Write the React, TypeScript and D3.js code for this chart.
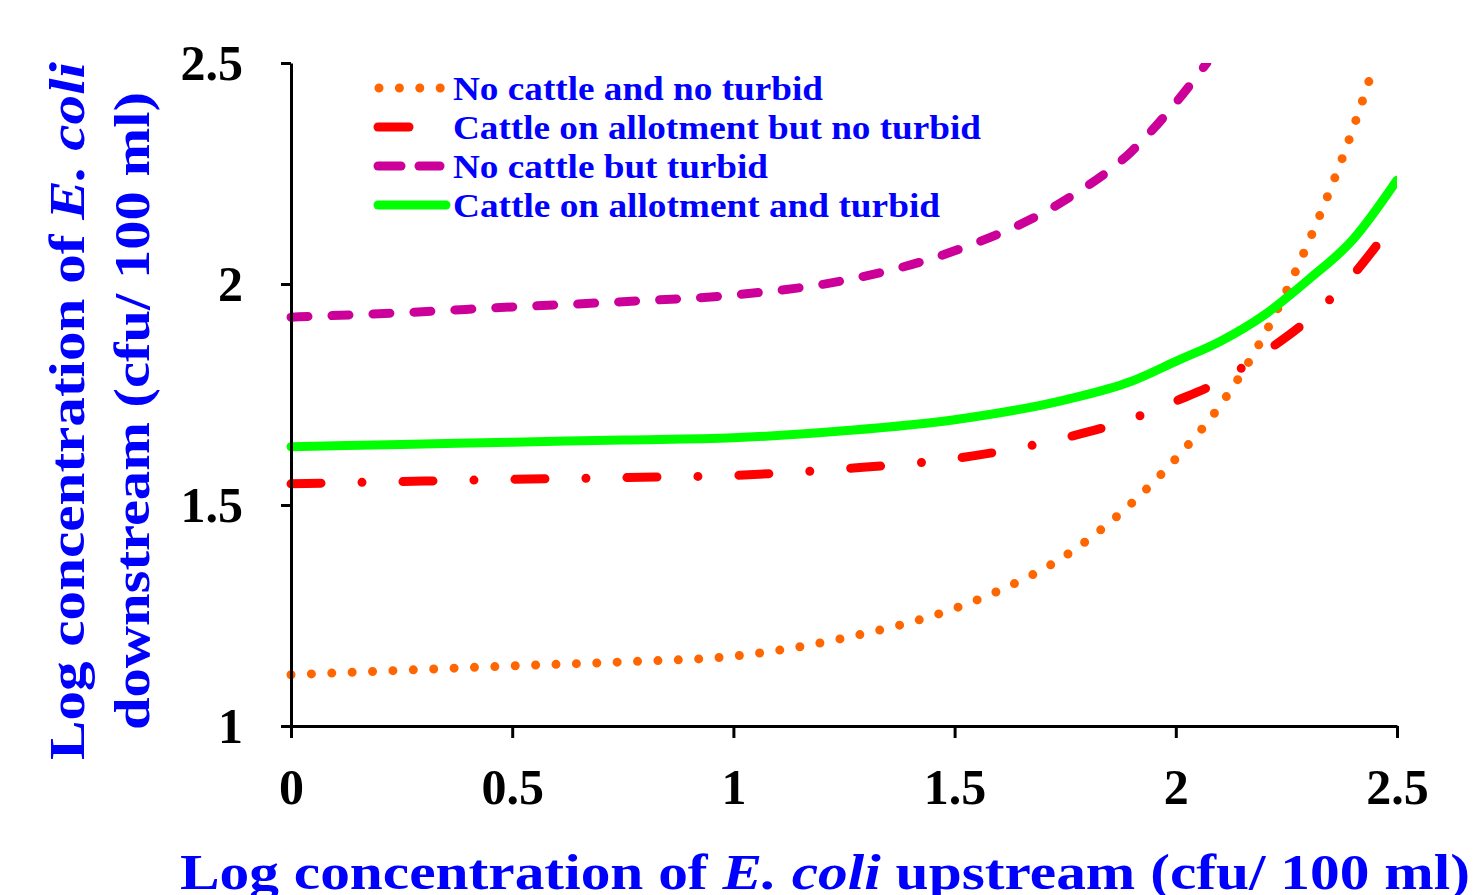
import React, { useRef, useEffect } from "react";
import { select, scaleLinear, line, curveMonotoneX, axisBottom, axisLeft } from "d3";

// values (x = log upstream, y = log downstream)
const noCattleNoTurbidX = [0, 0.25, 0.5, 0.75, 1.0, 1.25, 1.5, 1.6, 1.75, 1.85, 2.0, 2.1, 2.2, 2.3, 2.4, 2.45];
const noCattleNoTurbidY = [1.116, 1.126, 1.136, 1.145, 1.158, 1.199, 1.266, 1.306, 1.385, 1.46, 1.605, 1.725, 1.885, 2.095, 2.35, 2.5];

const cattleNoTurbidX = [0, 0.25, 0.5, 0.75, 1.0, 1.25, 1.5, 1.75, 1.9, 2.0, 2.1, 2.2, 2.3, 2.4, 2.5];
const cattleNoTurbidY = [1.548, 1.553, 1.558, 1.562, 1.567, 1.582, 1.605, 1.652, 1.695, 1.735, 1.78, 1.845, 1.92, 2.02, 2.15];

const noCattleTurbidX = [0, 0.25, 0.5, 0.75, 1.0, 1.25, 1.5, 1.75, 1.9, 2.0, 2.07];
const noCattleTurbidY = [1.925, 1.935, 1.948, 1.96, 1.975, 2.008, 2.075, 2.19, 2.3, 2.41, 2.5];

const cattleTurbidX = [0, 0.25, 0.5, 0.75, 1.0, 1.25, 1.5, 1.75, 1.9, 2.0, 2.1, 2.2, 2.3, 2.4, 2.5];
const cattleTurbidY = [1.632, 1.637, 1.642, 1.647, 1.652, 1.668, 1.693, 1.738, 1.78, 1.825, 1.87, 1.93, 2.01, 2.1, 2.235];

const xTicks = [0, 0.5, 1, 1.5, 2, 2.5];
const yTicks = [1, 1.5, 2, 2.5];

const seriesNames = [
  "No cattle and no turbid",
  "Cattle on allotment but no turbid",
  "No cattle but turbid",
  "Cattle on allotment and turbid",
];
// rendered widths of the legend labels in the reference
const legendWidths = [370, 528, 315, 487];

const FONT = "'Liberation Serif', 'Times New Roman', serif";

const styles = [
  { color: "#FF6600", dash: "0 20.4" },
  { color: "#FF0000", dash: "30 41 0 41" },
  { color: "#CC0099", dash: "17 24" },
  { color: "#00FF00", dash: null },
];

const margin = { left: 291, top: 63 };
const plotW = 1397 - 291;
const plotH = 726 - 63;

export default function App() {
  const svgRef = useRef<SVGSVGElement>(null);

  useEffect(() => {
    const svg = select(svgRef.current);
    const g = svg.select(".plot");

    const x = scaleLinear().domain([0, 2.5]).range([0, plotW]);
    const y = scaleLinear().domain([1, 2.5]).range([plotH, 0]);

    const series = [
      noCattleNoTurbidX.map((v, i) => [v, noCattleNoTurbidY[i]]),
      cattleNoTurbidX.map((v, i) => [v, cattleNoTurbidY[i]]),
      noCattleTurbidX.map((v, i) => [v, noCattleTurbidY[i]]),
      cattleTurbidX.map((v, i) => [v, cattleTurbidY[i]]),
    ];

    const gen = line<number[]>()
      .x((d) => x(d[0]))
      .y((d) => y(d[1]))
      .curve(curveMonotoneX);

    g.select(".lines")
      .selectAll("path")
      .data(series)
      .join("path")
      .attr("fill", "none")
      .attr("stroke", (d, i) => styles[i].color)
      .attr("stroke-width", 9)
      .attr("stroke-linecap", "round")
      .attr("stroke-linejoin", "round")
      .attr("stroke-dasharray", (d, i) => styles[i].dash)
      .attr("d", gen);

    const xAxis = axisBottom(x).tickValues(xTicks).tickFormat((d) => String(d)).tickSize(12).tickSizeOuter(0).tickPadding(30);
    const yAxis = axisLeft(y).tickValues(yTicks).tickFormat((d) => String(d)).tickSize(10).tickSizeOuter(0).tickPadding(38);

    const xg = g.select(".x-axis").attr("transform", `translate(0,${plotH})`).call(xAxis as any);
    const yg = g.select(".y-axis").call(yAxis as any);

    [xg, yg].forEach((a: any) => {
      a.selectAll("path").attr("stroke", "#000").attr("stroke-width", 3);
      a.selectAll("line").attr("stroke", "#000").attr("stroke-width", 3);
      a.selectAll("text")
        .attr("fill", "#000")
        .style("font-family", FONT)
        .style("font-weight", "bold")
        .style("font-size", "50px");
    });
  }, []);

  const legendRows = [88, 127, 166, 205];

  return (
    <svg ref={svgRef} width={1460} height={887} style={{ display: "block" }}>
      <defs>
        <clipPath id="plotClip">
          <rect x={-6} y={0} width={plotW + 6} height={plotH} />
        </clipPath>
      </defs>
      <g className="plot" transform={`translate(${margin.left - 8},${margin.top - 8})`}>
        <g className="lines" clipPath="url(#plotClip)" />
        <g className="x-axis" />
        <g className="y-axis" />
      </g>
      <g transform="translate(-8,-8)">
        {legendRows.map((ly, i) => {
          const s = styles[i];
          const segs =
            i === 0 ? [[379, 441]] : i === 1 ? [[378, 409]] : i === 2 ? [[378, 401], [419, 440]] : [[378, 446]];
          return (
            <g key={i}>
              {segs.map((sg, j) => (
                <line
                  key={j}
                  x1={sg[0]}
                  x2={sg[1]}
                  y1={ly}
                  y2={ly}
                  stroke={s.color}
                  strokeWidth={9}
                  strokeLinecap="round"
                  strokeDasharray={i === 0 ? s.dash : undefined}
                />
              ))}
              <text
                x={453}
                y={ly + 12}
                fill="#0000FF"
                fontFamily={FONT}
                fontWeight="bold"
                fontSize={34}
                textLength={legendWidths[i]}
                lengthAdjust="spacingAndGlyphs"
              >
                {seriesNames[i]}
              </text>
            </g>
          );
        })}
        <text
          x={180}
          y={889}
          fill="#0000FF"
          fontFamily={FONT}
          fontWeight="bold"
          fontSize={50}
          textLength={1290}
          lengthAdjust="spacingAndGlyphs"
        >
          Log concentration of <tspan fontStyle="italic">E. coli</tspan> upstream (cfu/ 100 ml)
        </text>
        <g transform="translate(84,411) rotate(-90)">
          <text
            x={-349}
            y={0}
            fill="#0000FF"
            fontFamily={FONT}
            fontWeight="bold"
            fontSize={50}
            textLength={698}
            lengthAdjust="spacingAndGlyphs"
          >
            Log concentration of <tspan fontStyle="italic">E. coli</tspan>
          </text>
          <text
            x={-319}
            y={65}
            fill="#0000FF"
            fontFamily={FONT}
            fontWeight="bold"
            fontSize={50}
            textLength={638}
            lengthAdjust="spacingAndGlyphs"
          >
            downstream (cfu/ 100 ml)
          </text>
        </g>
      </g>
    </svg>
  );
}
